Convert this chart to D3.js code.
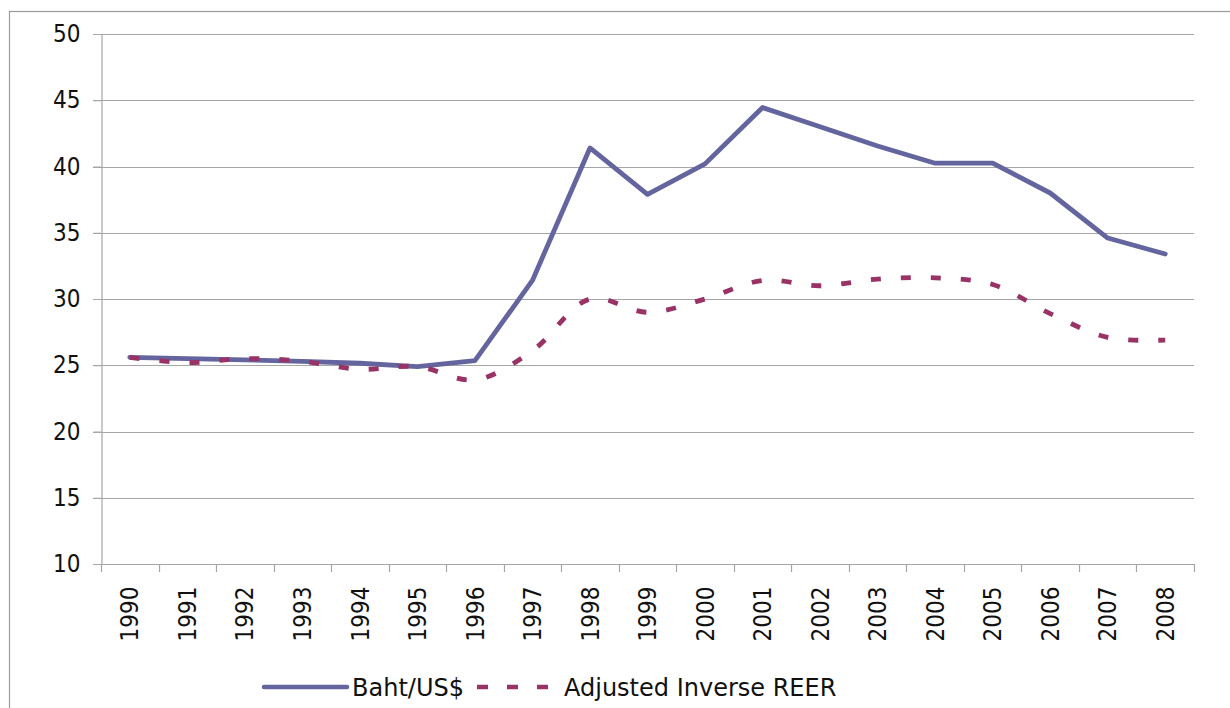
<!DOCTYPE html>
<html>
<head>
<meta charset="utf-8">
<script src="https://cdn.jsdelivr.net/npm/d3@7"></script>
<style>
  body { margin: 0; background: #fff; }
  svg { display: block; }
  text { font-family: "DejaVu Sans Condensed", "DejaVu Sans", sans-serif; fill: #111; }
  .legend-text { font-family: "DejaVu Sans", sans-serif; }
</style>
</head>
<body>
<div id="chart"></div>
<script>
var years = ["1990", "1991", "1992", "1993", "1994", "1995", "1996", "1997", "1998", "1999",
             "2000", "2001", "2002", "2003", "2004", "2005", "2006", "2007", "2008"];
var bahtPerUsd = [25.6, 25.5, 25.4, 25.3, 25.15, 24.9, 25.35, 31.4, 41.4, 37.9,
                  40.2, 44.45, 43.0, 41.55, 40.25, 40.25, 38.0, 34.6, 33.4];
var inverseReer = [25.6, 25.2, 25.5, 25.3, 24.7, 24.9, 23.9, 26.1, 30.0, 29.0,
                   30.0, 31.4, 31.0, 31.5, 31.6, 31.1, 28.9, 27.1, 26.9];
var yTicks = [10, 15, 20, 25, 30, 35, 40, 45, 50];
var seriesNames = ["Baht/US$", "Adjusted Inverse REER"];

var width = 1230, height = 708;
var margin = { left: 101, right: 36, top: 34, bottom: 144 };

var svg = d3.select("#chart").append("svg")
    .attr("width", width)
    .attr("height", height);

// outer chart border
svg.append("rect")
    .attr("x", 9.5).attr("y", 11.5)
    .attr("width", 1240).attr("height", 720)
    .attr("fill", "none")
    .attr("stroke", "#9a9a9a")
    .attr("stroke-width", 1.2);

var x = d3.scaleBand()
    .domain(years)
    .range([margin.left, width - margin.right]);

var y = d3.scaleLinear()
    .domain([10, 50])
    .range([height - margin.bottom, margin.top]);

// gridlines
svg.append("g")
    .selectAll("line")
    .data(yTicks)
    .enter()
    .append("line")
    .attr("x1", margin.left - 8)
    .attr("x2", width - margin.right)
    .attr("y1", function (d) { return Math.round(y(d)) + 0.5; })
    .attr("y2", function (d) { return Math.round(y(d)) + 0.5; })
    .attr("stroke", "#a6a6a6")
    .attr("stroke-width", 1.2);

// y axis
var yAxis = svg.append("g")
    .attr("transform", "translate(" + (margin.left + 0.5) + ",0)")
    .call(d3.axisLeft(y).tickValues(yTicks).tickSize(8).tickPadding(13));
yAxis.select(".domain").attr("stroke", "#a6a6a6").attr("stroke-width", 1.2);
yAxis.selectAll(".tick line").attr("stroke", "#a6a6a6");
yAxis.selectAll("text")
    .style("font-size", "24px")
    .attr("fill", "#111");

// x axis with boundary ticks between categories
var xAxis = svg.append("g")
    .attr("transform", "translate(0," + (Math.round(y(10)) + 0.5) + ")")
    .call(d3.axisBottom(x).tickSize(0).tickPadding(0));
xAxis.select(".domain").remove();
xAxis.selectAll("text")
    .style("font-size", "24px")
    .attr("fill", "#111")
    .attr("text-anchor", "end")
    .attr("transform", "rotate(-90)")
    .attr("x", -22)
    .attr("y", 0)
    .attr("dy", "0.36em");

var bounds = years.map(function (d) { return x(d); }).concat([x.range()[1]]);
svg.append("g")
    .selectAll("line")
    .data(bounds)
    .enter()
    .append("line")
    .attr("x1", function (d) { return Math.round(d) + 0.5; })
    .attr("x2", function (d) { return Math.round(d) + 0.5; })
    .attr("y1", Math.round(y(10)))
    .attr("y2", Math.round(y(10)) + 8)
    .attr("stroke", "#a6a6a6")
    .attr("stroke-width", 1.2);

function cx(d, i) { return x(years[i]) + x.bandwidth() / 2; }

var solidLine = d3.line()
    .x(cx)
    .y(function (d) { return y(d); });

var smoothLine = d3.line()
    .x(cx)
    .y(function (d) { return y(d); })
    .curve(d3.curveCatmullRom.alpha(0.5));

svg.append("path")
    .datum(bahtPerUsd)
    .attr("d", solidLine)
    .attr("fill", "none")
    .attr("stroke", "#64659f")
    .attr("stroke-width", 4.8)
    .attr("stroke-linejoin", "round")
    .attr("stroke-linecap", "round");

svg.append("path")
    .datum(inverseReer)
    .attr("d", smoothLine)
    .attr("fill", "none")
    .attr("stroke", "#993366")
    .attr("stroke-width", 4.8)
    .attr("stroke-dasharray", "10,20");

// legend
var legend = svg.append("g").attr("transform", "translate(0,687)");
legend.append("line")
    .attr("x1", 264).attr("x2", 347)
    .attr("stroke", "#64659f").attr("stroke-width", 4.5)
    .attr("stroke-linecap", "round");
legend.append("text")
    .attr("class", "legend-text")
    .attr("x", 352).attr("dy", "0.36em")
    .style("font-size", "24px")
    .text(seriesNames[0]);
legend.append("line")
    .attr("x1", 477).attr("x2", 550)
    .attr("stroke", "#993366").attr("stroke-width", 4.5)
    .attr("stroke-dasharray", "11,19");
legend.append("text")
    .attr("class", "legend-text")
    .attr("x", 564).attr("dy", "0.36em")
    .style("font-size", "24px")
    .text(seriesNames[1]);
</script>
</body>
</html>
